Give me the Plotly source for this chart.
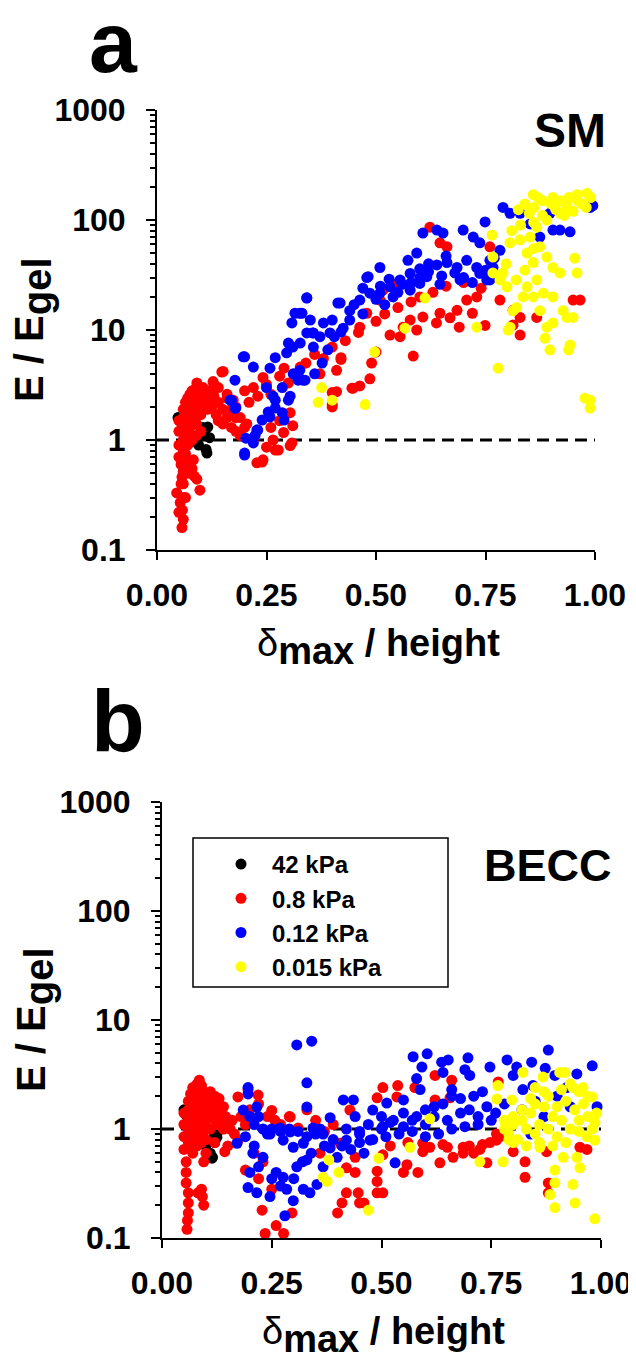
import plotly.graph_objects as go

# ---------------- DATA ----------------
series_names = ["42 kPa", "0.8 kPa", "0.12 kPa", "0.015 kPa"]
series_colors = ["#000000", "#FF0000", "#0000FF", "#FFFF00"]
x_ticks = [0.0, 0.25, 0.5, 0.75, 1.0]
x_tick_labels = ["0.00", "0.25", "0.50", "0.75", "1.00"]
y_ticks = [0.1, 1, 10, 100, 1000]
y_tick_labels = ["0.1", "1", "10", "100", "1000"]
reference_level = 1.0

# Panel a (SM)
a_black = [(0.048, 1.6), (0.055, 1.45), (0.06, 1.3), (0.065, 1.1), (0.07, 1.0), (0.075, 0.95),
           (0.1, 1.2), (0.105, 1.3), (0.116, 1.31), (0.11, 1.1), (0.114, 0.76), (0.112, 0.82),
           (0.12, 1.05), (0.095, 0.9)]
a_red = [
    (0.057, 0.16), (0.06, 0.19), (0.053, 0.27), (0.045, 0.33), (0.057, 0.46), (0.091, 0.44),
    (0.098, 0.35), (0.068, 0.56), (0.083, 0.66), (0.05, 0.22), (0.055, 0.4), (0.065, 0.3),
    (0.075, 0.5), (0.07, 0.62), (0.06, 0.52),
    (0.05, 1.5), (0.05, 1.2), (0.05, 0.9), (0.05, 0.7), (0.055, 0.6), (0.06, 1.9), (0.06, 1.6),
    (0.06, 1.3), (0.06, 1.0), (0.06, 0.8), (0.065, 2.2), (0.065, 1.7), (0.065, 1.4), (0.065, 1.1),
    (0.065, 0.75), (0.07, 2.4), (0.07, 2.0), (0.07, 1.5), (0.07, 1.2), (0.07, 0.9), (0.075, 2.6),
    (0.075, 1.8), (0.075, 1.3), (0.08, 2.8), (0.08, 2.3), (0.08, 1.9), (0.08, 1.5), (0.08, 1.0),
    (0.085, 2.5), (0.085, 2.0), (0.085, 1.6), (0.09, 3.0), (0.09, 2.2), (0.09, 1.8), (0.09, 1.4),
    (0.095, 2.7), (0.1, 2.4), (0.1, 2.0), (0.1, 1.7), (0.105, 3.0), (0.11, 2.6), (0.11, 2.2),
    (0.115, 1.9), (0.12, 2.8), (0.12, 2.4), (0.125, 2.0), (0.13, 3.2), (0.13, 2.5), (0.135, 1.7),
    (0.14, 2.2), (0.14, 1.5), (0.15, 1.9), (0.15, 1.4), (0.16, 1.6), (0.16, 2.4), (0.17, 1.3),
    (0.17, 1.9), (0.18, 1.2), (0.18, 1.6), (0.19, 1.1), (0.1, 1.2), (0.09, 1.1), (0.075, 0.6),
    (0.08, 0.55), (0.07, 0.5), (0.085, 0.47), (0.06, 0.4), (0.06, 0.3), (0.058, 0.23),
    (0.151, 4.2), (0.128, 3.4), (0.091, 3.3), (0.174, 2.3), (0.19, 1.6), (0.205, 1.4),
    (0.228, 0.62), (0.242, 0.66), (0.25, 0.86), (0.27, 0.81), (0.265, 1.0), (0.304, 0.89),
    (0.304, 1.77), (0.289, 1.17), (0.242, 3.7), (0.29, 4.5), (0.327, 4.6), (0.148, 4.15),
    (0.41, 2.75), (0.40, 2.0), (0.42, 5.4), (0.445, 2.96), (0.308, 0.94), (0.277, 0.81),
    (0.24, 0.63),
    (0.2, 2.8), (0.21, 2.2), (0.22, 3.0), (0.23, 2.5), (0.25, 3.2), (0.26, 2.6), (0.28, 3.8),
    (0.3, 3.3), (0.32, 4.0), (0.34, 5.0), (0.36, 6.0), (0.38, 5.5), (0.4, 7.0), (0.43, 8.0),
    (0.46, 9.5), (0.5, 12), (0.52, 14), (0.55, 16), (0.58, 18), (0.6, 20), (0.63, 22),
    (0.66, 25), (0.7, 27), (0.74, 24), (0.18, 2.0), (0.16, 2.6), (0.14, 3.0), (0.2, 1.3),
    (0.22, 1.0), (0.26, 1.3), (0.28, 1.5), (0.31, 1.35),
    (0.40, 2.1), (0.448, 2.96), (0.463, 3.1), (0.486, 3.6), (0.49, 5.0), (0.50, 6.3),
    (0.42, 5.6), (0.585, 5.8), (0.593, 10), (0.555, 8.7), (0.532, 9.0), (0.638, 11.6),
    (0.646, 14.2), (0.669, 12.9), (0.72, 14.2), (0.749, 11), (0.783, 18.7), (0.829, 9.0),
    (0.813, 11.1), (0.95, 18.7), (0.966, 18.7), (0.623, 86), (0.646, 62), (0.662, 57),
    (0.76, 57), (0.516, 23), (0.539, 26), (0.509, 18.7), (0.479, 14.2), (0.463, 10.6),
    (0.562, 10.6), (0.578, 12.3), (0.607, 13.1), (0.685, 15.1), (0.707, 18.7), (0.73, 20),
    (0.69, 10.6), (0.372, 4.0), (0.41, 4.3), (0.40, 2.7), (0.813, 15.1), (0.829, 13),
    (0.867, 13),
]
a_blue = [
    (0.2, 0.73), (0.203, 1.04), (0.228, 1.23), (0.22, 0.94), (0.167, 2.3), (0.18, 1.95),
    (0.178, 3.5), (0.2, 5.7), (0.22, 4.6), (0.25, 3.0), (0.265, 2.5), (0.27, 1.95), (0.29, 1.52),
    (0.258, 1.62), (0.304, 2.5), (0.311, 4.0), (0.296, 6.2), (0.308, 11.6), (0.331, 14.2),
    (0.342, 19.5), (0.35, 12.3), (0.357, 9.4), (0.327, 7.6), (0.27, 5.6), (0.31, 7.0),
    (0.258, 4.5), (0.197, 5.7), (0.2, 0.76), (0.224, 1.1), (0.23, 1.23), (0.17, 2.3),
    (0.178, 1.95), (0.315, 14.2), (0.3, 7.6), (0.355, 9.4), (0.39, 6.6), (0.377, 5.0),
    (0.36, 4.0), (0.322, 3.5), (0.286, 3.0), (0.27, 2.3), (0.254, 1.8), (0.24, 1.52),
    (0.286, 1.77), (0.3, 2.3), (0.413, 17.6), (0.42, 9.6), (0.405, 8.7),
    (0.342, 19.6), (0.326, 14.2), (0.342, 9.4), (0.333, 3.5), (0.38, 11.6), (0.40, 12.3),
    (0.418, 17.6), (0.44, 15), (0.463, 18.7), (0.486, 21.6), (0.482, 30.5), (0.509, 21.6),
    (0.532, 24.7), (0.555, 28.5), (0.578, 32.7), (0.573, 43), (0.593, 50), (0.607, 76),
    (0.639, 81), (0.653, 76), (0.616, 30.5), (0.639, 39), (0.662, 41), (0.685, 37),
    (0.707, 43), (0.73, 37), (0.699, 81), (0.722, 70), (0.749, 96), (0.737, 62), (0.76, 43),
    (0.783, 53), (0.79, 130), (0.806, 115), (0.829, 115), (0.852, 92), (0.874, 70),
    (0.904, 81), (0.92, 81), (0.943, 78), (0.989, 130), (0.995, 135), (0.897, 115),
    (0.479, 30), (0.509, 37), (0.646, 26), (0.692, 28.5), (0.737, 32.7), (0.753, 28.5),
    (0.767, 37), (0.76, 28.5), (0.578, 23), (0.60, 26.5), (0.539, 20), (0.44, 12.3),
    (0.425, 10.4), (0.357, 7), (0.372, 8.7), (0.395, 9.4), (0.326, 4.3), (0.338, 3.5),
    (0.45, 17), (0.47, 14), (0.5, 19), (0.52, 17), (0.55, 22), (0.58, 27), (0.6, 30),
    (0.62, 34), (0.65, 31), (0.68, 33), (0.7, 30), (0.72, 27), (0.75, 35), (0.77, 45),
    (0.62, 40), (0.66, 47), (0.6, 36), (0.56, 26), (0.53, 29), (0.51, 25), (0.47, 24),
]
a_yellow = [
    (0.368, 2.2), (0.40, 2.3), (0.475, 2.1), (0.376, 3.0), (0.497, 6.3), (0.566, 10.4),
    (0.612, 19.5), (0.73, 10.6), (0.779, 4.5), (0.802, 10), (0.821, 16), (0.767, 46),
    (0.765, 73), (0.806, 62), (0.825, 124), (0.859, 170), (0.904, 160), (0.959, 170),
    (0.982, 175), (0.936, 135), (0.92, 115), (0.89, 100), (0.867, 86), (0.852, 70),
    (0.829, 66), (0.874, 57), (0.845, 50), (0.859, 41), (0.89, 46), (0.904, 37), (0.92, 33),
    (0.954, 45), (0.959, 33), (0.79, 33), (0.783, 28.5), (0.799, 24.7), (0.82, 28.5),
    (0.845, 24.7), (0.867, 28.5), (0.882, 21.6), (0.904, 20), (0.927, 15), (0.874, 15),
    (0.89, 10.6), (0.904, 11.6), (0.936, 13), (0.95, 13), (0.886, 8.4), (0.897, 6.6),
    (0.943, 7.3), (0.94, 6.6), (0.977, 2.4), (0.989, 2.3), (0.989, 1.95), (0.813, 15),
    (0.806, 10.6), (0.859, 20), (0.836, 20), (0.767, 33), (0.797, 40),
    (0.84, 140), (0.86, 130), (0.88, 150), (0.9, 140), (0.92, 150), (0.94, 160), (0.96, 150),
    (0.97, 140), (0.99, 160), (0.95, 120), (0.93, 110), (0.88, 110), (0.86, 95), (0.91, 125),
    (0.98, 130), (0.87, 160), (0.85, 115), (0.83, 90), (0.81, 80), (0.84, 35), (0.86, 55),
]

# Panel b (BECC)
b_black = [(0.05, 1.5), (0.055, 1.35), (0.06, 1.2), (0.11, 0.6), (0.115, 0.55), (0.12, 0.75),
           (0.125, 0.9), (0.12, 1.0), (0.115, 0.8), (0.1, 0.7), (0.125, 0.84), (0.118, 0.94),
           (0.114, 0.54)]
b_red = [
    (0.05, 1.4), (0.05, 1.1), (0.05, 0.85), (0.05, 0.65), (0.055, 0.5), (0.055, 0.4),
    (0.055, 0.32), (0.06, 0.26), (0.06, 0.21), (0.06, 0.17), (0.057, 0.12), (0.058, 0.145),
    (0.06, 1.8), (0.06, 1.5), (0.06, 1.2), (0.06, 0.95), (0.06, 0.75), (0.065, 2.1),
    (0.065, 1.6), (0.065, 1.3), (0.065, 1.0), (0.065, 0.7), (0.07, 2.4), (0.07, 1.9),
    (0.07, 1.4), (0.07, 1.1), (0.07, 0.8), (0.07, 0.6), (0.075, 2.2), (0.075, 1.7),
    (0.075, 1.2), (0.075, 0.9), (0.08, 2.6), (0.08, 2.0), (0.08, 1.5), (0.08, 1.0), (0.08, 0.7),
    (0.085, 2.8), (0.085, 2.3), (0.085, 1.8), (0.085, 1.3), (0.085, 0.85), (0.09, 2.5),
    (0.09, 2.0), (0.09, 1.6), (0.09, 1.1), (0.09, 0.75), (0.095, 2.2), (0.095, 1.4),
    (0.095, 0.95), (0.1, 2.0), (0.1, 1.7), (0.1, 1.2), (0.1, 0.8), (0.105, 1.9), (0.105, 1.3),
    (0.11, 2.2), (0.11, 1.5), (0.11, 1.0), (0.115, 1.8), (0.115, 1.25), (0.12, 2.0),
    (0.12, 1.4), (0.125, 1.7), (0.125, 1.1), (0.13, 1.5), (0.13, 1.9), (0.135, 1.2),
    (0.14, 1.6), (0.14, 1.0), (0.145, 1.3), (0.15, 1.1), (0.15, 0.7), (0.155, 1.0),
    (0.16, 1.2), (0.165, 0.9), (0.09, 0.28), (0.092, 0.24), (0.095, 0.2), (0.082, 0.26),
    (0.1, 0.6), (0.12, 0.75), (0.095, 0.5),
    (0.173, 1.97), (0.196, 2.3), (0.219, 2.05), (0.25, 1.48), (0.257, 1.2), (0.292, 1.29),
    (0.173, 0.79), (0.143, 0.62), (0.19, 0.42), (0.25, 0.28), (0.31, 1.02), (0.296, 0.17),
    (0.2, 1.5), (0.22, 1.7), (0.24, 1.3), (0.27, 1.1), (0.33, 1.5), (0.35, 1.2), (0.37, 0.95),
    (0.39, 1.1), (0.36, 0.6), (0.22, 0.35), (0.23, 0.5), (0.19, 1.1), (0.18, 1.3), (0.21, 0.6),
    (0.228, 0.18), (0.235, 0.11), (0.26, 0.13), (0.277, 0.11), (0.29, 1.3), (0.4, 0.17),
    (0.41, 0.21), (0.42, 0.26), (0.44, 0.4), (0.45, 0.21), (0.46, 0.21), (0.447, 0.26),
    (0.49, 0.33), (0.49, 0.26), (0.503, 0.26), (0.49, 0.41), (0.503, 0.58), (0.42, 0.44),
    (0.44, 0.55), (0.406, 0.74), (0.428, 1.49), (0.49, 1.93), (0.503, 2.4), (0.537, 2.5),
    (0.535, 1.97), (0.55, 0.4), (0.558, 0.47), (0.583, 0.4), (0.576, 2.4), (0.622, 3.1),
    (0.66, 2.8), (0.622, 1.85), (0.656, 1.93),
    (0.594, 0.62), (0.633, 0.49), (0.663, 0.55), (0.686, 0.6), (0.71, 0.6), (0.724, 0.65),
    (0.747, 0.75), (0.762, 0.79), (0.762, 0.9), (0.74, 0.49), (0.686, 0.68), (0.65, 0.68),
    (0.61, 0.68), (0.594, 0.74), (0.766, 2.7), (0.80, 0.62), (0.827, 0.5), (0.827, 0.36),
    (0.88, 0.32), (0.876, 0.62), (0.952, 0.68), (0.968, 0.65), (0.88, 0.26),
    (0.52, 0.7), (0.56, 0.75), (0.64, 0.72), (0.7, 0.7), (0.73, 0.72), (0.77, 0.85),
]
b_blue = [
    (0.307, 5.9), (0.341, 6.4), (0.33, 2.65), (0.33, 1.59), (0.196, 2.4), (0.196, 2.1),
    (0.185, 1.49), (0.216, 1.59), (0.171, 0.74), (0.19, 0.85), (0.207, 0.6), (0.23, 0.55),
    (0.2, 0.4), (0.196, 0.29), (0.216, 0.26), (0.246, 0.24), (0.26, 0.4), (0.276, 0.36),
    (0.284, 0.28), (0.299, 0.22), (0.28, 0.16), (0.322, 0.28), (0.337, 0.26), (0.307, 0.45),
    (0.33, 0.52), (0.299, 0.68), (0.322, 0.74), (0.276, 0.79), (0.246, 0.9), (0.269, 1.02),
    (0.292, 0.94), (0.344, 1.02), (0.367, 0.9), (0.383, 1.27), (0.383, 0.67), (0.367, 0.45),
    (0.353, 0.31), (0.399, 0.55), (0.413, 1.85), (0.436, 1.85), (0.44, 1.3), (0.42, 0.79),
    (0.45, 0.9), (0.474, 0.79), (0.48, 1.49), (0.503, 1.05), (0.512, 1.73), (0.531, 0.49),
    (0.527, 1.2), (0.55, 1.85), (0.572, 4.6), (0.604, 4.9), (0.592, 3.7), (0.58, 2.9),
    (0.588, 2.3), (0.637, 4.1), (0.652, 4.3), (0.64, 3.3), (0.66, 2.3), (0.697, 4.5),
    (0.69, 3.5), (0.701, 3.1), (0.747, 3.7), (0.786, 4.3), (0.808, 3.7), (0.8, 3.1),
    (0.842, 4.1), (0.88, 5.3), (0.873, 3.6), (0.895, 3.1), (0.945, 3.2), (0.98, 3.8),
    (0.991, 1.6), (0.922, 2.4), (0.822, 2.3), (0.845, 2.5),
    (0.42, 1.0), (0.45, 0.95), (0.47, 1.1), (0.5, 1.0), (0.52, 1.15), (0.55, 1.05), (0.57, 1.2),
    (0.6, 1.1), (0.62, 1.3), (0.65, 1.2), (0.68, 1.4), (0.7, 1.5), (0.72, 1.3), (0.74, 1.6),
    (0.76, 1.4), (0.78, 1.7), (0.45, 0.75), (0.48, 0.8), (0.51, 0.85), (0.54, 0.9),
    (0.57, 0.95), (0.6, 0.85), (0.63, 0.9), (0.66, 1.0), (0.69, 1.05), (0.72, 1.1), (0.75, 1.2),
    (0.6, 1.5), (0.64, 1.7), (0.68, 1.9), (0.71, 2.0), (0.73, 2.2), (0.66, 2.0), (0.62, 1.6),
    (0.55, 1.4), (0.58, 1.3), (0.5, 1.3), (0.43, 0.65), (0.46, 0.6), (0.41, 0.7), (0.39, 0.8),
    (0.2, 1.3), (0.21, 1.1), (0.22, 1.3), (0.23, 1.0), (0.24, 0.9), (0.25, 1.0), (0.27, 0.95),
    (0.29, 1.0), (0.31, 0.95), (0.33, 0.85), (0.35, 0.9), (0.36, 1.0), (0.37, 0.7), (0.34, 0.6),
    (0.32, 0.5), (0.3, 0.35), (0.27, 0.3), (0.25, 0.35), (0.22, 0.45), (0.21, 0.7),
    (0.82, 1.5), (0.85, 1.8), (0.87, 1.3), (0.9, 2.0), (0.84, 0.9), (0.93, 1.6),
]
b_yellow = [
    (0.38, 0.52), (0.367, 0.36), (0.376, 0.33), (0.403, 0.4), (0.47, 0.18), (0.494, 0.54),
    (0.565, 0.68), (0.61, 1.24), (0.724, 0.5), (0.765, 2.5), (0.763, 1.88), (0.777, 0.5),
    (0.797, 1.85), (0.822, 3.3), (0.85, 2.4), (0.868, 3.0), (0.906, 3.3), (0.918, 3.3),
    (0.936, 2.4), (0.959, 2.4), (0.98, 1.97), (0.986, 1.15), (0.986, 0.79), (0.968, 0.85),
    (0.945, 0.55), (0.952, 0.44), (0.936, 0.31), (0.941, 0.21), (0.986, 0.15), (0.895, 0.19),
    (0.884, 0.25), (0.895, 0.32), (0.895, 0.42), (0.914, 0.55), (0.861, 0.68),
    (0.78, 1.0), (0.79, 0.9), (0.8, 1.1), (0.81, 0.8), (0.82, 1.2), (0.83, 1.0), (0.84, 1.4),
    (0.85, 0.9), (0.86, 1.1), (0.87, 1.6), (0.88, 1.0), (0.89, 1.3), (0.9, 0.85), (0.91, 1.2),
    (0.92, 1.8), (0.93, 1.0), (0.94, 1.5), (0.95, 1.2), (0.96, 1.7), (0.97, 1.3), (0.98, 1.0),
    (0.99, 1.4), (0.8, 0.75), (0.83, 0.7), (0.86, 0.75), (0.89, 0.7), (0.92, 0.75),
    (0.95, 0.95), (0.82, 1.5), (0.85, 1.7), (0.88, 2.0), (0.91, 2.3), (0.93, 2.6), (0.95, 2.2),
    (0.97, 2.0), (0.87, 2.2), (0.84, 1.9), (0.9, 1.6), (0.8, 1.3), (0.78, 1.2), (0.79, 0.8),
]

panel_a = [a_black, a_red, a_blue, a_yellow]
panel_b = [b_black, b_red, b_blue, b_yellow]

# ---------------- FIGURE ----------------
PAGE_OFF = 8            # default body margin of the html page
W, H = 636 - PAGE_OFF, 1359 - PAGE_OFF
FONT = "Liberation Sans, Arial, sans-serif"


def px_x(p):
    return (p - PAGE_OFF) / W


def px_y(p):
    return 1 - (p - PAGE_OFF) / H


fig = go.Figure()

for panel_idx, panel in enumerate([panel_a, panel_b]):
    xa = "x" if panel_idx == 0 else "x2"
    ya = "y" if panel_idx == 0 else "y2"
    fig.add_trace(go.Scatter(x=[x_ticks[0], x_ticks[-1]], y=[reference_level, reference_level],
                             mode="lines", line=dict(color="black", width=3, dash="12px,7px"),
                             xaxis=xa, yaxis=ya, showlegend=False, hoverinfo="skip"))
    for s_idx, pts in enumerate(panel):
        fig.add_trace(go.Scatter(
            x=[p[0] for p in pts], y=[p[1] for p in pts], mode="markers",
            name=series_names[s_idx],
            marker=dict(color=series_colors[s_idx], size=11, line=dict(width=0)),
            xaxis=xa, yaxis=ya, cliponaxis=False,
            showlegend=(panel_idx == 1), legendrank=s_idx + 1))

tickfont = dict(family=FONT, size=32, color="black", weight="bold")

xcommon = dict(range=[0, 1], tickvals=x_ticks, ticktext=x_tick_labels, showline=True,
               linecolor="black", linewidth=2, ticks="outside", ticklen=8, tickwidth=2,
               tickcolor="black", showgrid=False, zeroline=False, tickfont=tickfont,
               ticklabelstandoff=8, automargin=False)
ycommon = dict(type="log", range=[-1, 3], tickvals=y_ticks, ticktext=y_tick_labels,
               showline=True, linecolor="black", linewidth=2, ticks="outside", ticklen=9,
               tickwidth=2, tickcolor="black", showgrid=False, zeroline=False,
               tickfont=tickfont, ticklabelstandoff=14, automargin=False,
               minor=dict(ticks="outside", ticklen=5, tickwidth=1.5, tickcolor="black",
                          dtick="D1", showgrid=False))

fig.update_layout(
    width=W, height=H, margin=dict(l=0, r=0, t=0, b=0, autoexpand=False),
    paper_bgcolor="white", plot_bgcolor="white",
    xaxis=dict(domain=[px_x(157), px_x(595)], anchor="y", **xcommon),
    yaxis=dict(domain=[px_y(550), px_y(110)], anchor="x", **ycommon),
    xaxis2=dict(domain=[px_x(162), px_x(601)], anchor="y2", **xcommon),
    yaxis2=dict(domain=[px_y(1238), px_y(802)], anchor="x2", **ycommon),
    legend=dict(x=px_x(210), y=px_y(842), xanchor="left", yanchor="top",
                font=dict(family=FONT, size=24, color="black", weight="bold"),
                bgcolor="rgba(0,0,0,0)", borderwidth=0, itemwidth=52, tracegroupgap=0),
    showlegend=True,
)

# legend frame
fig.add_shape(type="rect", xref="paper", yref="paper",
              x0=px_x(193), x1=px_x(448), y0=px_y(987), y1=px_y(838),
              line=dict(color="black", width=1.5))

ytitle = ('E / E<sub><span style="font-size:40px">gel</span></sub>')
xtitle = ('<span style="font-weight:normal">δ</span>'
          '<sub><span style="font-size:38px">max</span></sub> / height')


def label(text, cx, cy, size, angle=0):
    return dict(text=text, x=px_x(cx), y=px_y(cy), xref="paper", yref="paper",
                xanchor="center", yanchor="middle", showarrow=False, textangle=angle,
                font=dict(family=FONT, size=size, color="black", weight="bold"))


ann = [
    label(ytitle, 33, 330, 40, -90),
    label(ytitle, 35, 1020, 40, -90),
    label(xtitle, 378, 647, 38),
    label(xtitle, 383, 1335, 38),
    label("SM", 570, 131, 48),
    label("BECC", 548, 865, 45),
    label("a", 113, 42, 86),
    label("b", 118, 720, 88),
]
fig.update_layout(annotations=ann)

fig.write_html("out.html")
